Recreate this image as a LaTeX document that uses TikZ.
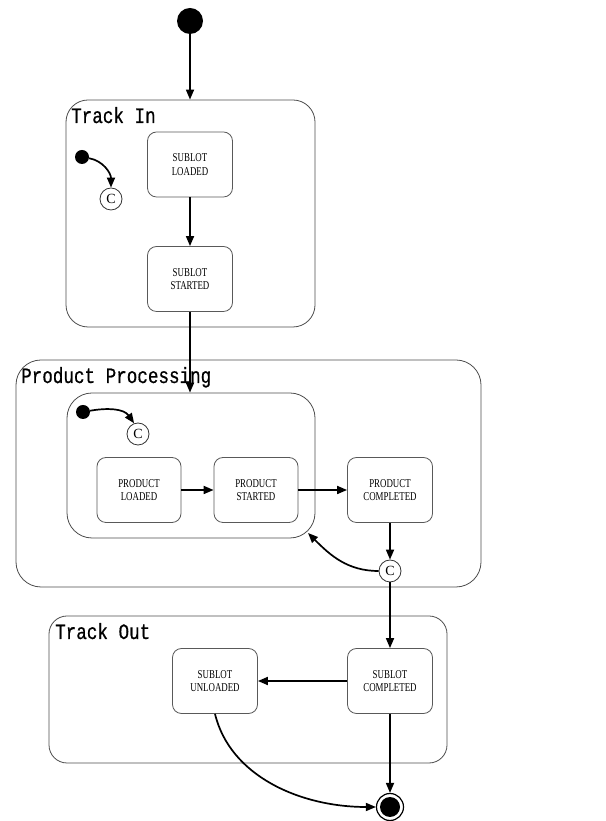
\documentclass[tikz,border=0pt]{standalone}
\usepackage{fontspec}
\setmainfont{Liberation Serif}
\newfontfamily\boxfont[FakeStretch=0.74]{Liberation Serif}
\newfontfamily\titlefont[FakeStretch=0.8,FakeBold=0.6]{Liberation Mono}
\usetikzlibrary{arrows.meta}

\begin{document}
\begin{tikzpicture}[x=1pt,y=1pt,
  state/.style={draw=black!65, line width=0.8pt, rounded corners=9pt,
    minimum width=85pt, minimum height=65pt, align=center, inner sep=0pt,
    font=\boxfont\fontsize{12}{13.5}\selectfont},
  region/.style={draw=black!70, line width=0.8pt, inner sep=0pt},
  title/.style={anchor=base west, inner sep=0pt,
    font=\titlefont\fontsize{22}{22}\selectfont},
  conn/.style={circle, draw=black!80, line width=0.8pt, minimum size=22pt,
    inner sep=0pt, font=\fontsize{14}{14}\selectfont},
  initial/.style={circle, fill=black, inner sep=0pt},
  flow/.style={-{Triangle[length=10pt,width=8pt]}, line width=1.7pt},
]
\useasboundingbox (0,0) rectangle (605,821);

% composite states
\node[region, rounded corners=22pt, minimum width=249pt, minimum height=227pt]
  (trackin) at (190.5,607.5) {};
\node[title] (trackinlbl) at (71,698) {Track In};

\node[region, rounded corners=25pt, minimum width=465pt, minimum height=227pt]
  (proc) at (248.5,347.5) {};
\node[title] (proclbl) at (21,438) {Product Processing};
\node[region, rounded corners=25pt, minimum width=248pt, minimum height=145pt]
  (procin) at (191,355.5) {};

\node[region, rounded corners=18pt, minimum width=398pt, minimum height=147pt]
  (trackout) at (248,131.5) {};
\node[title] (trackoutlbl) at (55,182) {Track Out};

% pseudo states
\node[initial, minimum size=26pt] (start) at (190,800) {};
\node[initial, minimum size=14pt] (ini1) at (82,664) {};
\node[conn] (c1) at (111,622) {C};
\node[initial, minimum size=14pt] (ini2) at (83,409) {};
\node[conn] (c2) at (138,387) {C};
\node[conn] (c3) at (390,250) {C};
\node[circle, draw, line width=1.2pt, minimum size=27pt, inner sep=0pt] (final) at (390,14) {};
\fill (final.center) circle (10pt);
\coordinate (corner) at (308,288);

% simple states
\node[state] (sl) at (190,656.5) {SUBLOT\\LOADED};
\node[state] (ss) at (190,542) {SUBLOT\\STARTED};
\node[state, minimum width=84pt] (pl) at (139,331) {PRODUCT\\LOADED};
\node[state, minimum width=84pt] (ps) at (256,331) {PRODUCT\\STARTED};
\node[state] (pc) at (390,331) {PRODUCT\\COMPLETED};
\node[state] (su) at (215,140) {SUBLOT\\UNLOADED};
\node[state] (sc) at (390,140) {SUBLOT\\COMPLETED};

% transitions
\draw[flow] (start.south) -- (start.south |- trackin.north);
\draw[flow] (ini1) to[out=-10, in=90] (c1.north);
\draw[flow] (sl) -- (ss);
\draw[flow] (ss.south) -- (ss.south |- procin.north);
\draw[flow] (ini2) to[out=10, in=125] (c2.110);
\draw[flow] (pl) -- (ps);
\draw[flow] (ps) -- (pc);
\draw[flow] (pc) -- (c3);
\draw[flow] (c3.west) to[out=180, in=-45] (corner);
\draw[flow] (c3) -- (sc);
\draw[flow] (sc) -- (su);
\draw[flow] (sc) -- (final);
\draw[flow] (su.south) .. controls (230,45) and (300,14) .. (final.west);
\end{tikzpicture}
\end{document}
